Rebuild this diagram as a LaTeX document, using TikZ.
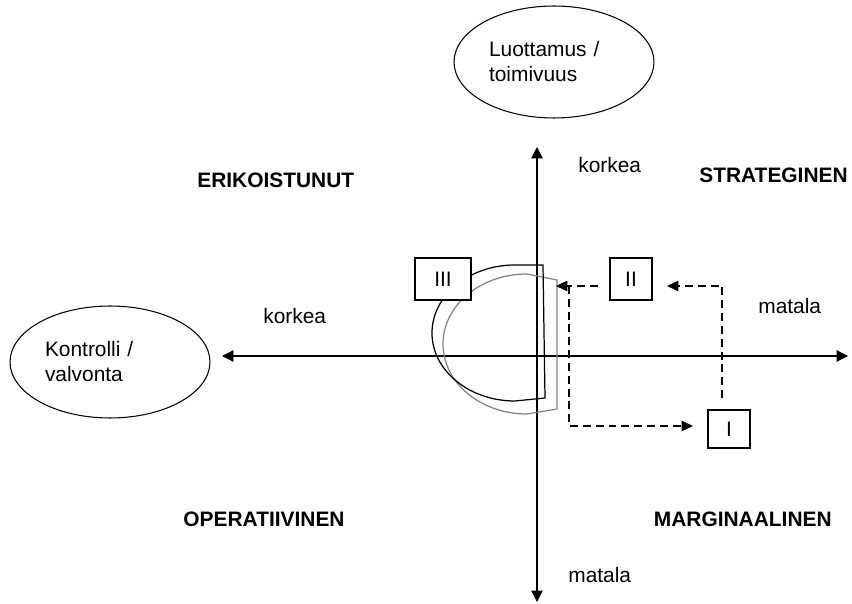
\documentclass[tikz,border=0pt]{standalone}
\usepackage{fontspec}
\setmainfont{Liberation Sans}
\usetikzlibrary{arrows.meta, positioning, shapes.geometric}
\definecolor{curvegray}{RGB}{130,130,130}

\begin{document}
\begin{tikzpicture}[x=0.02cm, y=-0.02cm,
    font=\fontsize{11.9}{14.2}\selectfont,
    oval/.style={draw, ellipse, line width=0.6pt, inner sep=0pt, align=left,
                 text width=2.6cm, minimum width=4.0cm, minimum height=2.24cm},
    box/.style={draw, fill=white, line width=0.6pt, inner sep=0pt,
                minimum width=0.84cm, minimum height=0.84cm},
    lbl/.style={inner sep=0pt},
    quad/.style={inner sep=0pt, font=\fontsize{11.9}{14.2}\selectfont\bfseries},
    axis/.style={line width=0.7pt,
                 {Triangle[length=6.5pt,width=6.5pt]}-{Triangle[length=6.5pt,width=6.5pt]}},
    flow/.style={line width=0.6pt, dash pattern=on 4.5pt off 2.8pt,
                 -{Triangle[length=6.5pt,width=6pt]}}]
    \useasboundingbox (0,0) rectangle (852,604);

    % ellipses
    \node[oval] (trust) at (554,62) {Luottamus /\\toimivuus};
    \node[oval] (ctrl) at (110,362) {Kontrolli /\\valvonta};

    % axes
    \coordinate (axL) at (222,356);
    \coordinate (axR) at (848,356);
    \coordinate (axT) at (537,147);
    \coordinate (axB) at (537,602);
    \draw[axis] (axL) -- (axR);
    \draw[axis] (axT) -- (axB);

    % the two D-shaped areas
    \draw[curvegray, line width=0.7pt] (557,280) -- (527,274)
        arc[start angle=270, end angle=90, x radius=84, y radius=70] -- (557,409) -- cycle;
    \draw[line width=0.7pt] (545,398) -- (543,265) -- (515,265)
        arc[start angle=270, end angle=90, x radius=83, y radius=68] -- cycle;

    % boxes
    \node[box, minimum width=1.12cm] (III) at (443,279) {III};
    \node[box] (II) at (631,279) {II};
    \node[box, minimum height=0.76cm] (I) at (729,429) {I};

    % dashed moves
    \coordinate (r1) at (722,398);
    \coordinate (r2) at (667,286);
    \coordinate (l1) at (598,286);
    \coordinate (l2) at (556,286);
    \coordinate (v1) at (569,286);
    \coordinate (v2) at (693,426);
    \draw[flow] (r1) |- (r2);
    \draw[flow] (l1) -- (l2);
    \draw[flow] (v1) |- (v2);

    % axis labels
    \node[lbl, anchor=base west] (hiT) at (578,173) {korkea};
    \node[lbl, anchor=base west] (loB) at (568,582) {matala};
    \node[lbl, anchor=base west] (hiL) at (263,324) {korkea};
    \node[lbl, anchor=base west] (loR) at (758,314) {matala};

    % quadrants
    \node[quad, anchor=base west] (spec) at (197,188) {ERIKOISTUNUT};
    \node[quad, anchor=base east] (strat) at (848,183) {STRATEGINEN};
    \node[quad, anchor=base] (oper) at (264,526) {OPERATIIVINEN};
    \node[quad, anchor=base east] (marg) at (832,526) {MARGINAALINEN};
\end{tikzpicture}
\end{document}
